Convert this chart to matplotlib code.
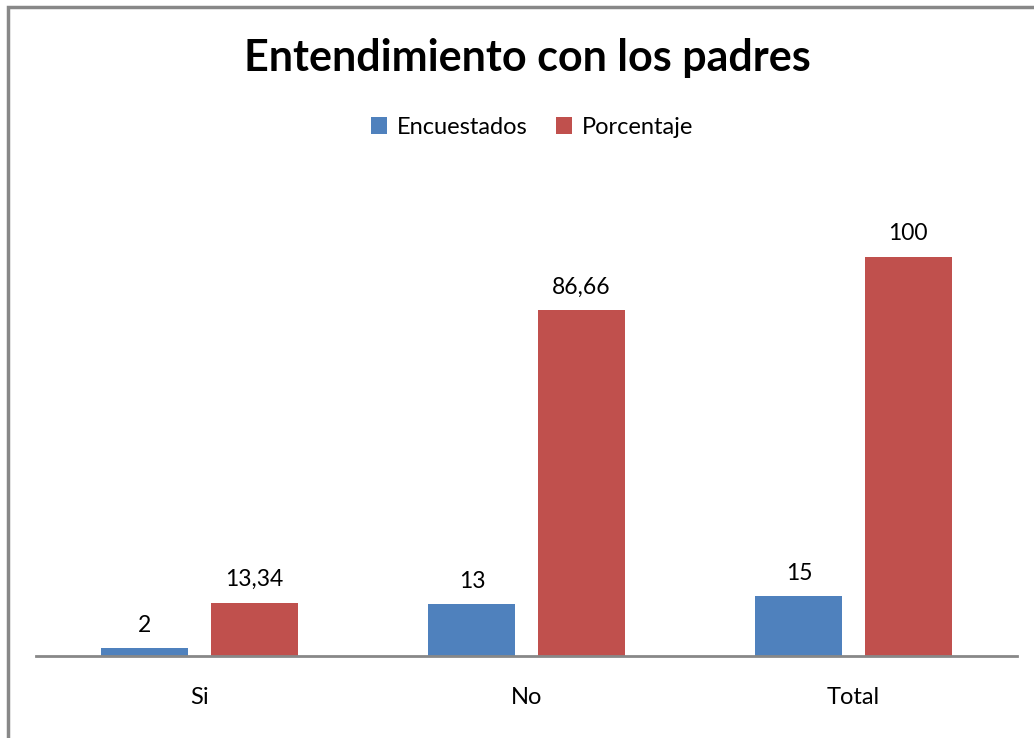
import matplotlib.pyplot as plt
import numpy as np
from matplotlib.patches import Rectangle

categorias = ['Si', 'No', 'Total']
encuestados = [2, 13, 15]
porcentaje = [13.34, 86.66, 100]
etiq_enc = ['2', '13', '15']
etiq_por = ['13,34', '86,66', '100']

plt.rcParams['font.family'] = ['Lato', 'DejaVu Sans']

W, H = 1034, 738
fig = plt.figure(figsize=(W / 100, H / 100), dpi=100)

# chart border (cut off on right and bottom, like the reference)
fig.patches.append(Rectangle((8 / W, -0.1), 1.2, 1 - 7 / H + 0.1,
                             transform=fig.transFigure, fill=False,
                             edgecolor='#888888', linewidth=2.5))

ax = fig.add_axes([36 / W, (H - 656) / H, 981 / W, 479 / H])

x = np.arange(len(categorias))
w = 0.266
off = 0.167
b1 = ax.bar(x - off, encuestados, w, color='#4f81bd', label='Encuestados')
b2 = ax.bar(x + off, porcentaje, w, color='#c0504d', label='Porcentaje')

for bars, labs in ((b1, etiq_enc), (b2, etiq_por)):
    for b, t in zip(bars, labs):
        ax.annotate(t, (b.get_x() + b.get_width() / 2, b.get_height()),
                    xytext=(0, 9), textcoords='offset points',
                    ha='center', va='bottom', fontsize=16.5)

ax.set_xlim(-0.5, 2.5)
ax.set_ylim(0, 120)
ax.set_yticks([])
for s in ['top', 'right', 'left']:
    ax.spines[s].set_visible(False)
ax.spines['bottom'].set_color('#888888')
ax.spines['bottom'].set_linewidth(2)
ax.set_xticks(x)
ax.set_xticklabels(categorias, fontsize=17)
ax.tick_params(axis='x', length=0, pad=22)

fig.text(527 / W, 1 - 58 / H, 'Entendimiento con los padres', ha='center',
         va='center', fontsize=31, fontweight='bold')
fig.legend(handles=[b1, b2], loc='center', bbox_to_anchor=(532 / W, 1 - 127 / H),
           ncol=2, frameon=False, fontsize=17, handlelength=0.7,
           handleheight=0.7, handletextpad=0.4, columnspacing=1.2)

fig.savefig('out.png', dpi=100)
